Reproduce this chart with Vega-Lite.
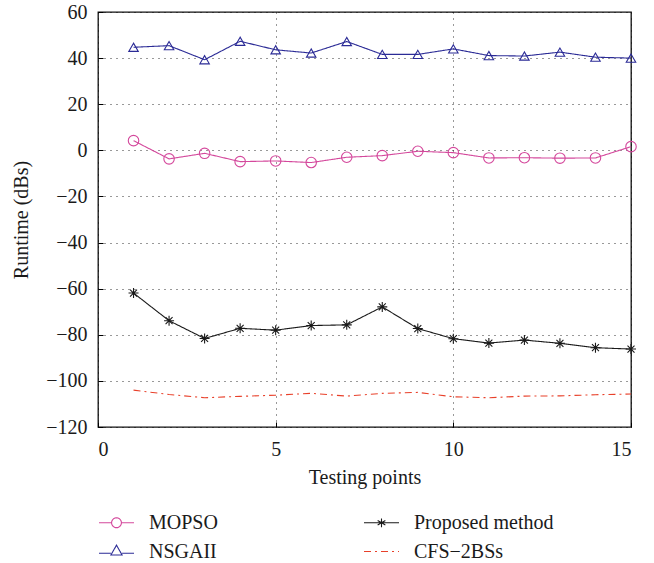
{
  "$schema": "https://vega.github.io/schema/vega-lite/v6.json",
  "width": 533,
  "height": 415,
  "autosize": "none",
  "padding": {"left": 98, "top": 12, "right": 23, "bottom": 136},
  "background": "white",
  "config": {
    "font": "Liberation Serif",
    "view": {"stroke": "#111111", "strokeWidth": 1.3},
    "axis": {
      "grid": true,
      "gridColor": "#000000",
      "gridDash": [1, 5],
      "gridOpacity": 0.8,
      "domain": false,
      "tickColor": "#000000",
      "tickSize": -5,
      "labelFont": "Liberation Serif",
      "labelFontSize": 20,
      "labelColor": "#1a1a1a",
      "titleFont": "Liberation Serif",
      "titleFontSize": 20,
      "titleFontWeight": "normal",
      "titleColor": "#1a1a1a"
    },
    "legend": {
      "labelFont": "Liberation Serif",
      "labelFontSize": 20,
      "labelColor": "#1a1a1a"
    }
  },
  "data": {
    "values": [
      {"x": 1, "series": "MOPSO", "y": 4.2},
      {"x": 2, "series": "MOPSO", "y": -3.7},
      {"x": 3, "series": "MOPSO", "y": -1.3},
      {"x": 4, "series": "MOPSO", "y": -4.9},
      {"x": 5, "series": "MOPSO", "y": -4.6},
      {"x": 6, "series": "MOPSO", "y": -5.3},
      {"x": 7, "series": "MOPSO", "y": -3.0},
      {"x": 8, "series": "MOPSO", "y": -2.3},
      {"x": 9, "series": "MOPSO", "y": -0.4},
      {"x": 10, "series": "MOPSO", "y": -1.0},
      {"x": 11, "series": "MOPSO", "y": -3.3},
      {"x": 12, "series": "MOPSO", "y": -3.2},
      {"x": 13, "series": "MOPSO", "y": -3.4},
      {"x": 14, "series": "MOPSO", "y": -3.3},
      {"x": 15, "series": "MOPSO", "y": 1.6},
      {"x": 1, "series": "NSGAII", "y": 44.7},
      {"x": 2, "series": "NSGAII", "y": 45.4},
      {"x": 3, "series": "NSGAII", "y": 39.3},
      {"x": 4, "series": "NSGAII", "y": 47.3},
      {"x": 5, "series": "NSGAII", "y": 43.6},
      {"x": 6, "series": "NSGAII", "y": 42.2},
      {"x": 7, "series": "NSGAII", "y": 47.2},
      {"x": 8, "series": "NSGAII", "y": 41.6},
      {"x": 9, "series": "NSGAII", "y": 41.6},
      {"x": 10, "series": "NSGAII", "y": 44.0},
      {"x": 11, "series": "NSGAII", "y": 41.1},
      {"x": 12, "series": "NSGAII", "y": 40.9},
      {"x": 13, "series": "NSGAII", "y": 42.6},
      {"x": 14, "series": "NSGAII", "y": 40.4},
      {"x": 15, "series": "NSGAII", "y": 40.0},
      {"x": 1, "series": "Proposed method", "y": -61.9},
      {"x": 2, "series": "Proposed method", "y": -73.9},
      {"x": 3, "series": "Proposed method", "y": -81.6},
      {"x": 4, "series": "Proposed method", "y": -77.2},
      {"x": 5, "series": "Proposed method", "y": -78.0},
      {"x": 6, "series": "Proposed method", "y": -76.0},
      {"x": 7, "series": "Proposed method", "y": -75.7},
      {"x": 8, "series": "Proposed method", "y": -67.9},
      {"x": 9, "series": "Proposed method", "y": -77.3},
      {"x": 10, "series": "Proposed method", "y": -81.7},
      {"x": 11, "series": "Proposed method", "y": -83.6},
      {"x": 12, "series": "Proposed method", "y": -82.3},
      {"x": 13, "series": "Proposed method", "y": -83.7},
      {"x": 14, "series": "Proposed method", "y": -85.6},
      {"x": 15, "series": "Proposed method", "y": -86.2},
      {"x": 1, "series": "CFS−2BSs", "y": -104.0},
      {"x": 2, "series": "CFS−2BSs", "y": -105.9},
      {"x": 3, "series": "CFS−2BSs", "y": -107.3},
      {"x": 4, "series": "CFS−2BSs", "y": -106.7},
      {"x": 5, "series": "CFS−2BSs", "y": -106.2},
      {"x": 6, "series": "CFS−2BSs", "y": -105.4},
      {"x": 7, "series": "CFS−2BSs", "y": -106.6},
      {"x": 8, "series": "CFS−2BSs", "y": -105.4},
      {"x": 9, "series": "CFS−2BSs", "y": -105.0},
      {"x": 10, "series": "CFS−2BSs", "y": -106.9},
      {"x": 11, "series": "CFS−2BSs", "y": -107.3},
      {"x": 12, "series": "CFS−2BSs", "y": -106.6},
      {"x": 13, "series": "CFS−2BSs", "y": -106.5},
      {"x": 14, "series": "CFS−2BSs", "y": -106.0},
      {"x": 15, "series": "CFS−2BSs", "y": -105.7}
    ]
  },
  "encoding": {
    "x": {
      "field": "x",
      "type": "quantitative",
      "scale": {"domain": [0, 15], "nice": false, "zero": false},
      "axis": {"values": [0, 5, 10, 15], "title": "Testing points", "labelPadding": 17, "titlePadding": 8}
    },
    "y": {
      "field": "y",
      "type": "quantitative",
      "scale": {"domain": [-120, 60], "nice": false, "zero": false},
      "axis": {"values": [-120, -100, -80, -60, -40, -20, 0, 20, 40, 60], "title": "Runtime (dBs)", "labelPadding": 16, "titlePadding": 14}
    }
  },
  "layer": [
    {
      "mark": {"type": "line", "strokeWidth": 1.1},
      "encoding": {
        "color": {
          "field": "series",
          "type": "nominal",
          "scale": {
            "domain": ["MOPSO", "Proposed method", "NSGAII", "CFS−2BSs"],
            "range": ["#d4489c", "#1a1a1a", "#2b2b96", "#e8402a"]
          },
          "legend": {
            "title": null,
            "orient": "none",
            "legendX": 0,
            "legendY": 492,
            "direction": "horizontal",
            "columns": 2,
            "columnPadding": 143,
            "rowPadding": -11,
            "symbolSize": 1225,
            "symbolStrokeWidth": 1.1,
            "labelOffset": 14,
            "encode": {
              "symbols": {
                "update": {
                  "shape": {"signal": "datum.value === 'MOPSO' ? 'M-1,0H-0.28M0.28,0H1M0.28,0A0.28,0.28 0 1 1 -0.28,0A0.28,0.28 0 1 1 0.28,0' : datum.value === 'NSGAII' ? 'M-1,0.1H-0.32M0.32,0.1H1M0,-0.36L0.32,0.2L-0.32,0.2Z' : datum.value === 'Proposed method' ? 'M-1,0H1M0,-0.25V0.25M-0.22,-0.13L0.22,0.13M-0.22,0.13L0.22,-0.13' : 'M-1,0H1'"},
                  "strokeDash": {"signal": "datum.value === 'CFS−2BSs' ? [7, 4, 2, 4] : [1, 0]"},
                  "fill": {"value": "transparent"}
                }
              }
            }
          }
        },
        "strokeDash": {
          "field": "series",
          "type": "nominal",
          "scale": {
            "domain": ["MOPSO", "Proposed method", "NSGAII", "CFS−2BSs"],
            "range": [[1, 0], [1, 0], [1, 0], [7, 4, 2, 4]]
          },
          "legend": null
        }
      }
    },
    {
      "transform": [{"filter": "datum.series !== 'CFS−2BSs'"}],
      "mark": {"type": "point", "filled": false, "strokeWidth": 1.1, "opacity": 1},
      "encoding": {
        "color": {"field": "series", "type": "nominal", "legend": null},
        "shape": {
          "field": "series",
          "type": "nominal",
          "scale": {
            "domain": ["MOPSO", "Proposed method", "NSGAII"],
            "range": ["circle", "M0,-1V1M-1,0H1M-0.7,-0.7L0.7,0.7M-0.7,0.7L0.7,-0.7", "triangle-up"]
          },
          "legend": null
        },
        "size": {
          "field": "series",
          "type": "nominal",
          "scale": {"domain": ["MOPSO", "Proposed method", "NSGAII"], "range": [110, 90, 120]},
          "legend": null
        }
      }
    }
  ]
}
